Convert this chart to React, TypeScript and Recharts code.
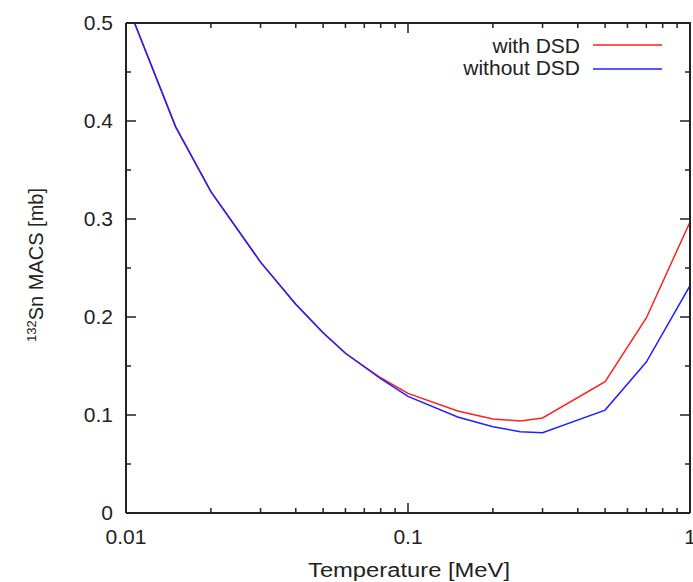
import React from "react";
import { LineChart, Line, XAxis, YAxis } from "recharts";

// temperature points [MeV]
const temperatures = [
  0.01, 0.015, 0.02, 0.03, 0.04, 0.05, 0.06, 0.08, 0.1, 0.15, 0.2, 0.25, 0.3,
  0.5, 0.7, 1.0,
];
const withDSD = [
  0.522, 0.394, 0.328, 0.256, 0.213, 0.184, 0.163, 0.138, 0.122, 0.104, 0.096,
  0.094, 0.097, 0.134, 0.199, 0.297,
];
const withoutDSD = [
  0.522, 0.394, 0.328, 0.256, 0.213, 0.184, 0.163, 0.137, 0.119, 0.098, 0.088,
  0.083, 0.082, 0.105, 0.154, 0.232,
];

const xTicks = [
  0.01, 0.02, 0.03, 0.04, 0.05, 0.06, 0.07, 0.08, 0.09, 0.1, 0.2, 0.3, 0.4,
  0.5, 0.6, 0.7, 0.8, 0.9, 1,
];
const xLabels = ["0.01", "0.1", "1"];
const yTicks = [0, 0.05, 0.1, 0.15, 0.2, 0.25, 0.3, 0.35, 0.4, 0.45, 0.5];
const yLabels = ["0", "0.1", "0.2", "0.3", "0.4", "0.5"];

const FONT = "'Liberation Sans', Arial, sans-serif";
const INK = "#222";
const RED = "#ff2020";
const BLUE = "#2020ff";

// layout
const W = 693;
const H = 582;
const M = { top: 22, right: 2, bottom: 0, left: 0 };
const LEFT_W = 126;
const BOTTOM_H = 69;
const PLOT = {
  left: M.left + LEFT_W,
  right: W - M.right - 1,
  top: M.top + 1,
  bottom: H - M.bottom - BOTTOM_H,
};

const chartData = temperatures.map((t, i) => ({
  t,
  with: withDSD[i],
  without: withoutDSD[i],
}));

const xFmt = (v: number) => xLabels.find((s) => Math.abs(Number(s) - v) < 1e-9) || "";
const yFmt = (v: number) => yLabels.find((s) => Math.abs(Number(s) - v) < 1e-9) || "";
const blank = () => "";

const tickFont = { fontFamily: FONT, fontSize: 21, fill: INK };

const YLabel = () => (
  <text transform="translate(43, 265) rotate(-90)" textAnchor="middle" fontFamily={FONT} fontSize={20} fill={INK}>
    <tspan fontSize={13} dy={-7}>132</tspan>
    <tspan dy={7}>Sn MACS [mb]</tspan>
  </text>
);

const XLabel = () => (
  <text
    x={409}
    y={577}
    textAnchor="middle"
    fontFamily={FONT}
    fontSize={20}
    fill={INK}
    textLength={202}
    lengthAdjust="spacingAndGlyphs"
  >
    Temperature [MeV]
  </text>
);

// gnuplot frame: border plus inward ticks on all four sides, and the key
const FrameAndKey = () => {
  const lo = Math.log10(xTicks[0]);
  const hi = Math.log10(xTicks[xTicks.length - 1]);
  const xPos = (t: number) => PLOT.left + ((PLOT.right - PLOT.left) * (Math.log10(t) - lo)) / (hi - lo);
  const yMax = yTicks[yTicks.length - 1];
  const yPos = (v: number) => PLOT.bottom - ((PLOT.bottom - PLOT.top) * v) / yMax;
  let d = "";
  xTicks.forEach((t) => {
    const len = xFmt(t) ? 10 : 5;
    const x = xPos(t);
    d += `M${x},${PLOT.bottom}v${-len}M${x},${PLOT.top}v${len}`;
  });
  yTicks.forEach((v) => {
    const len = yFmt(v) ? 10 : 5;
    const y = yPos(v);
    d += `M${PLOT.left},${y}h${len}M${PLOT.right},${y}h${-len}`;
  });
  return (
    <g>
      <path d={d} stroke={INK} strokeWidth={1.5} fill="none" />
      <path
        d={`M${PLOT.left},${PLOT.top}H${PLOT.right}V${PLOT.bottom}`}
        stroke={INK}
        strokeWidth={2}
        fill="none"
      />
      <text x={580} y={53} textAnchor="end" fontFamily={FONT} fontSize={21} fill={INK}>
        with DSD
      </text>
      <path d="M593,45H662" stroke={RED} strokeWidth={1.5} />
      <text x={580} y={75} textAnchor="end" fontFamily={FONT} fontSize={21} fill={INK}>
        without DSD
      </text>
      <path d="M593,69H662" stroke={BLUE} strokeWidth={1.5} />
    </g>
  );
};

export default function App() {
  return (
    <div style={{ position: "absolute", left: 0, top: 0, width: W, height: H }}>
      <LineChart width={W} height={H} data={chartData} margin={M}>
        <XAxis
          xAxisId="bottom"
          dataKey="t"
          type="number"
          scale="log"
          domain={[0.01, 1]}
          ticks={xTicks}
          interval={0}
          allowDataOverflow
          height={BOTTOM_H}
          tickSize={-7}
          tickMargin={23}
          tickLine={false}
          axisLine={{ stroke: INK, strokeWidth: 2 }}
          tick={tickFont}
          tickFormatter={xFmt}
          label={<XLabel />}
        />
        <XAxis
          xAxisId="top"
          orientation="top"
          dataKey="t"
          type="number"
          scale="log"
          domain={[0.01, 1]}
          ticks={xTicks}
          interval={0}
          allowDataOverflow
          height={1}
          tickSize={0}
          tickLine={false}
          axisLine={false}
          tick={false}
          tickFormatter={blank}
          label={<FrameAndKey />}
        />
        <YAxis
          yAxisId="left"
          type="number"
          domain={[0, 0.5]}
          ticks={yTicks}
          interval={0}
          allowDataOverflow
          width={LEFT_W}
          tickSize={-7}
          tickMargin={20}
          tickLine={false}
          axisLine={{ stroke: INK, strokeWidth: 2 }}
          tick={tickFont}
          tickFormatter={yFmt}
          label={<YLabel />}
        />
        <YAxis
          yAxisId="right"
          orientation="right"
          type="number"
          domain={[0, 0.5]}
          ticks={yTicks}
          interval={0}
          allowDataOverflow
          width={1}
          tickSize={0}
          tickLine={false}
          axisLine={false}
          tick={false}
          tickFormatter={blank}
        />
        <Line
          xAxisId="bottom"
          yAxisId="left"
          dataKey="with"
          stroke={RED}
          strokeWidth={1.5}
          dot={false}
          isAnimationActive={false}
        />
        <Line
          xAxisId="top"
          yAxisId="right"
          dataKey="without"
          stroke={BLUE}
          strokeWidth={1.5}
          dot={false}
          isAnimationActive={false}
        />
      </LineChart>
    </div>
  );
}
